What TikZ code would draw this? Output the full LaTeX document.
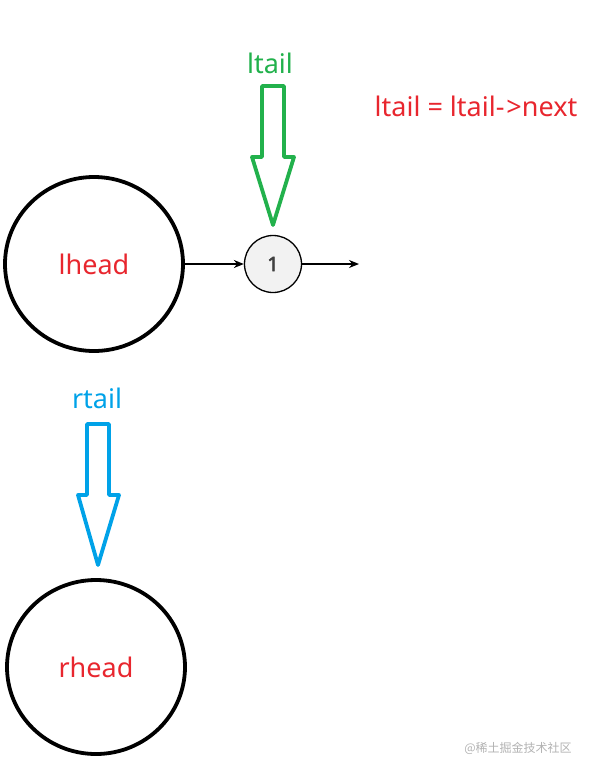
\documentclass[tikz,border=0pt]{standalone}
\usepackage{fontspec}
\setmainfont{Noto Sans}
\newfontfamily\cjk{Noto Sans CJK SC}
\newfontfamily\numfont[FakeBold=2.5]{Noto Sans}
\usetikzlibrary{arrows.meta,shapes.geometric}
\definecolor{lred}{HTML}{E8262E}
\definecolor{lgreen}{HTML}{22B14C}
\definecolor{lblue}{HTML}{00A2E8}

\tikzset{
  label text/.style={font=\fontsize{27}{32}\selectfont},
  bignode/.style={draw, line width=3.8pt, ellipse, minimum width=178pt, minimum height=174pt, text=lred, label text},
  smallnode/.style={draw, circle, line width=1.3pt, fill=gray!10, minimum size=57pt, inner sep=0pt, font=\numfont\fontsize{20}{24}\selectfont, text=black!75},
  link/.style={-{Stealth[length=10pt,width=8pt]}, line width=1.3pt},
  blockarrow/.style={line width=3.8pt, line join=round}
}

\begin{document}
\begin{tikzpicture}[x=1pt, y=-1pt]
  \useasboundingbox (0,0) rectangle (595,774);

  % list nodes
  \node[bignode] (lhead) at (94,264) {lhead};
  \node[smallnode] (n1) at (273,264) {1};
  \coordinate (next) at (359,264);
  \draw[link] (lhead) -- (n1);
  \draw[link] (n1) -- (next);

  \node[bignode] (rhead) at (96,667) {rhead};

  % ltail pointer
  \node[text=lgreen, label text] (ltail) at (270,63) {ltail};
  \draw[blockarrow, lgreen] (262,86) -- (284,86) -- (284,157) -- (294,157) -- (273,225)
      -- (252,157) -- (262,157) -- cycle;
  \node[text=lred, label text] (step1) at (476,106) {ltail = ltail-\kern2pt>next};

  % rtail pointer
  \node[text=lblue, label text] (rtail) at (97,398) {rtail};
  \draw[blockarrow, lblue] (87,424) -- (109,424) -- (109,495) -- (119,495) -- (98,565)
      -- (78,495) -- (87,495) -- cycle;

  % watermark
  \node[text=gray!60, font=\cjk\fontsize{12}{14}\selectfont] (mark) at (518,748) {@稀土掘金技术社区};
\end{tikzpicture}
\end{document}
